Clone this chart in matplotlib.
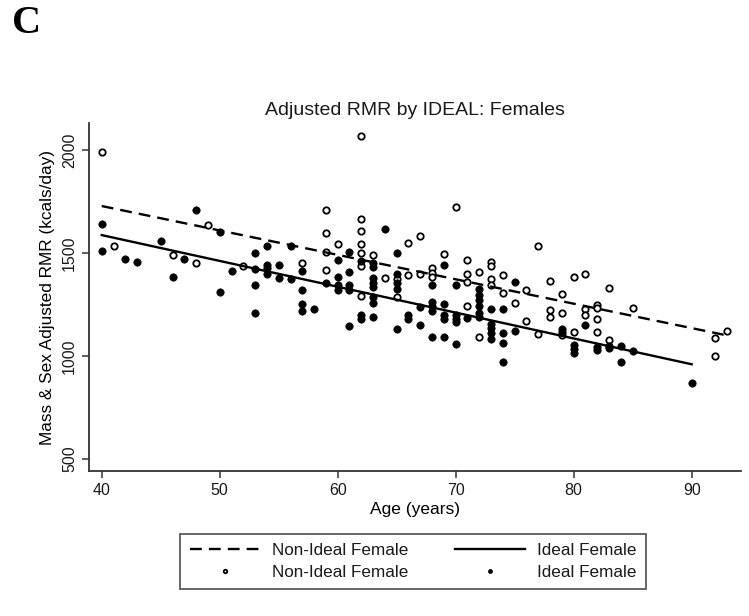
import numpy as np
import matplotlib.pyplot as plt

plt.rcParams.update({
    'font.family': ['Liberation Sans', 'DejaVu Sans'],
    'font.size': 11.5,
    'text.color': '#1a1a1a',
})

# ------------------------------------------------------------
# 数据
# ------------------------------------------------------------
# Non-Ideal Female（空心点）
nonideal_age = [40, 41, 46, 48, 49, 52, 57,
                59, 59, 59, 59, 60,
                62, 62, 62, 62, 62, 62, 62,
                63, 64, 65, 65, 66, 66, 67, 67,
                68, 68, 68, 69, 70,
                71, 71, 71, 71, 72, 72,
                73, 73, 73, 73, 74, 74, 75, 76, 76, 77, 77,
                78, 78, 78, 79, 79, 79, 80, 80,
                81, 81, 81, 82, 82, 82, 82, 83, 83, 85,
                92, 92, 93]
nonideal_rmr = [1989, 1536, 1489, 1450, 1634, 1437, 1451,
                1707, 1595, 1503, 1418, 1544,
                2068, 1663, 1609, 1544, 1499, 1438, 1289,
                1490, 1380, 1372, 1288, 1549, 1393, 1584, 1398,
                1426, 1405, 1385, 1497, 1721,
                1465, 1400, 1359, 1243, 1406, 1090,
                1455, 1438, 1374, 1345, 1392, 1304, 1255, 1320, 1170, 1535, 1108,
                1364, 1225, 1189, 1300, 1209, 1102, 1386, 1116,
                1399, 1227, 1201, 1249, 1235, 1181, 1116, 1332, 1078, 1235,
                1089, 998, 1123]

# Ideal Female（实心点）
ideal_age = [40, 40, 42, 43, 45, 46, 47, 48, 50, 50, 51,
             53, 53, 53, 53, 54, 54, 54, 54, 55, 55, 56, 56,
             57, 57, 57, 57, 58, 59,
             60, 60, 60, 60, 61, 61, 61, 61, 61,
             62, 62, 62,
             63, 63, 63, 63, 63, 63, 63, 63, 64,
             65, 65, 65, 65, 65, 66, 66, 67, 67,
             68, 68, 68, 68, 68, 69, 69, 69, 69, 69,
             70, 70, 70, 70, 70, 71,
             72, 72, 72, 72, 72, 72,
             73, 73, 73, 73, 73, 74, 74, 74, 74, 75, 75,
             79, 79, 80, 80, 80, 81, 82, 82, 83, 83, 84, 84, 85, 90]
ideal_rmr = [1641, 1510, 1471, 1456, 1556, 1385, 1471, 1707, 1602, 1312, 1411,
             1499, 1422, 1346, 1207, 1535, 1444, 1425, 1400, 1444, 1379, 1535, 1374,
             1412, 1319, 1254, 1220, 1227, 1353,
             1466, 1386, 1345, 1320, 1505, 1409, 1345, 1320, 1148,
             1461, 1199, 1181,
             1453, 1434, 1377, 1353, 1334, 1288, 1256, 1188, 1615,
             1498, 1399, 1356, 1324, 1130, 1199, 1182, 1238, 1150,
             1343, 1262, 1241, 1217, 1090, 1442, 1254, 1199, 1182, 1090,
             1346, 1197, 1182, 1167, 1057, 1183,
             1324, 1296, 1272, 1243, 1209, 1190,
             1227, 1155, 1134, 1110, 1085, 1227, 1114, 1062, 971, 1359, 1123,
             1132, 1117, 1053, 1032, 1015, 1149, 1045, 1029, 1049, 1040, 1049, 971, 1026, 867]

# 拟合线端点
fit_nonideal_x = [40, 93]
fit_nonideal_y = [1728, 1100]
fit_ideal_x = [40, 90]
fit_ideal_y = [1587, 960]

xticks = [40, 50, 60, 70, 80, 90]
yticks = [500, 1000, 1500, 2000]

# ------------------------------------------------------------
# 绘图
# ------------------------------------------------------------
fig = plt.figure(figsize=(7.49, 6.16), dpi=100)
ax = fig.add_axes([0.1188, 0.2354, 0.8705, 0.5649])

ax.plot(fit_nonideal_x, fit_nonideal_y, color='black', linewidth=1.7,
        linestyle=(0, (5, 3)), label='Non-Ideal Female', zorder=3)
ax.plot(fit_ideal_x, fit_ideal_y, color='black', linewidth=1.7,
        linestyle='-', label='Ideal Female', zorder=3)
ax.plot(nonideal_age, nonideal_rmr, 'o', ms=4.6, mfc='white', mec='black',
        mew=1.3, linestyle='none', label='Non-Ideal Female', zorder=2)
ax.plot(ideal_age, ideal_rmr, 'o', ms=5.3, mfc='black', mec='black',
        mew=0.5, linestyle='none', label='Ideal Female', zorder=2)

ax.set_xlim(38.92, 94.18)
ax.set_ylim(442, 2131)
ax.set_xticks(xticks)
ax.set_yticks(yticks)
ax.set_yticklabels([str(v) for v in yticks], rotation=90, va='center')
ax.tick_params(direction='out', length=5, width=1.1, colors='#333333',
               labelcolor='#1a1a1a', labelsize=11.5)
for s in ['top', 'right']:
    ax.spines[s].set_visible(False)
for s in ['left', 'bottom']:
    ax.spines[s].set_color('#333333')
    ax.spines[s].set_linewidth(1.3)

ax.set_xlabel('Age (years)', fontsize=12.5, labelpad=3)
ax.set_ylabel('Mass & Sex Adjusted RMR (kcals/day)', fontsize=12.4, labelpad=5)
ax.set_title('Adjusted RMR by IDEAL: Females', fontsize=14, pad=6)

h, l = ax.get_legend_handles_labels()
order = [0, 2, 1, 3]
leg = fig.legend([h[i] for i in order], [l[i] for i in order], ncol=2,
                 loc='center', bbox_to_anchor=(0.5514, 0.0885),
                 fontsize=12.3, handlelength=4.1, handletextpad=0.7,
                 columnspacing=2.75, markerscale=0.55, fancybox=False,
                 edgecolor='#333333', borderpad=0.55, labelspacing=0.4)
leg.get_frame().set_linewidth(1.3)

fig.text(0.016, 0.962, 'C', fontsize=29, fontweight='bold',
         family='Liberation Serif', va='center', ha='left', color='black')

plt.savefig('out.png', dpi=100)
plt.close()
